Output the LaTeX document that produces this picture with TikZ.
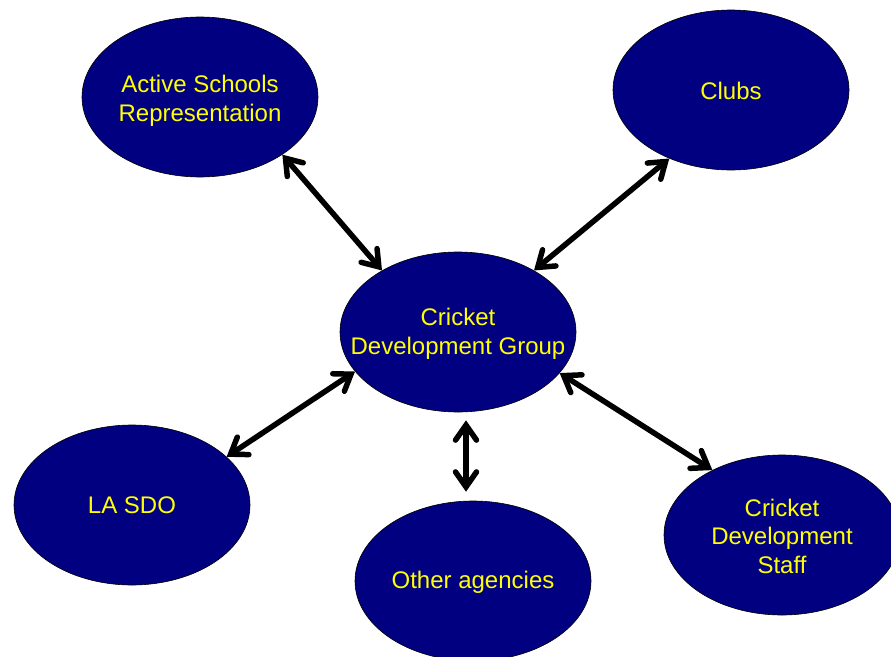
\documentclass[tikz,border=0pt]{standalone}
\usepackage{fontspec}
\setmainfont{Liberation Sans}
\usetikzlibrary{shapes.geometric,arrows.meta}
\definecolor{navyfill}{RGB}{0,0,128}
\definecolor{txtyellow}{RGB}{255,255,0}
\begin{document}
\begin{tikzpicture}[x=1pt,y=-1pt,
  oval/.style={ellipse,draw=black,line width=0.6pt,fill=navyfill,
    minimum width=236pt,minimum height=160pt,inner sep=0pt},
  ovaltext/.style={text=txtyellow,align=center,inner sep=0pt,
    font=\fontsize{24}{28.5}\selectfont},
  arr/.style={line width=5.5pt,line cap=round,line join=round,
    {Straight Barb[length=15pt,width=21pt,line cap=round]}-{Straight Barb[length=15pt,width=21pt,line cap=round]}}]
\useasboundingbox (0,0) rectangle (891,656);
\begin{scope}
\clip (0,0) rectangle (891,656);
\node[oval] (as) at (200,97) {};
\node[oval] (cl) at (731,90) {};
\node[oval] (cdg) at (458,332) {};
\node[oval] (la) at (132,505) {};
\node[oval] (oa) at (473,581) {};
\node[oval] (st) at (782,535) {};
\end{scope}
\node[ovaltext] (ast) at ([yshift=-4pt]as.center) {Active Schools\\Representation};
\node[ovaltext] (clt) at ([yshift=-1pt]cl.center) {Clubs};
\node[ovaltext] (cdgt) at ([yshift=-2pt]cdg.center) {Cricket\\Development Group};
\node[ovaltext] (lat) at (la.center) {LA SDO};
\node[ovaltext] (oat) at ([yshift=-1pt]oa.center) {Other agencies};
\node[ovaltext] (stt) at ([yshift=-1pt]st.center) {Cricket\\Development\\Staff};
\draw[arr] (as.-35) -- (cdg.141);
\draw[arr] (cl.-132) -- (cdg.39);
\draw[arr] (cdg.201) -- (la.27);
\draw[arr] ([xshift=8pt,yshift=-8pt]cdg.south) -- ([xshift=-7pt,yshift=9pt]oa.north);
\draw[arr] (cdg.-22) -- (st.137);
\end{tikzpicture}
\end{document}
